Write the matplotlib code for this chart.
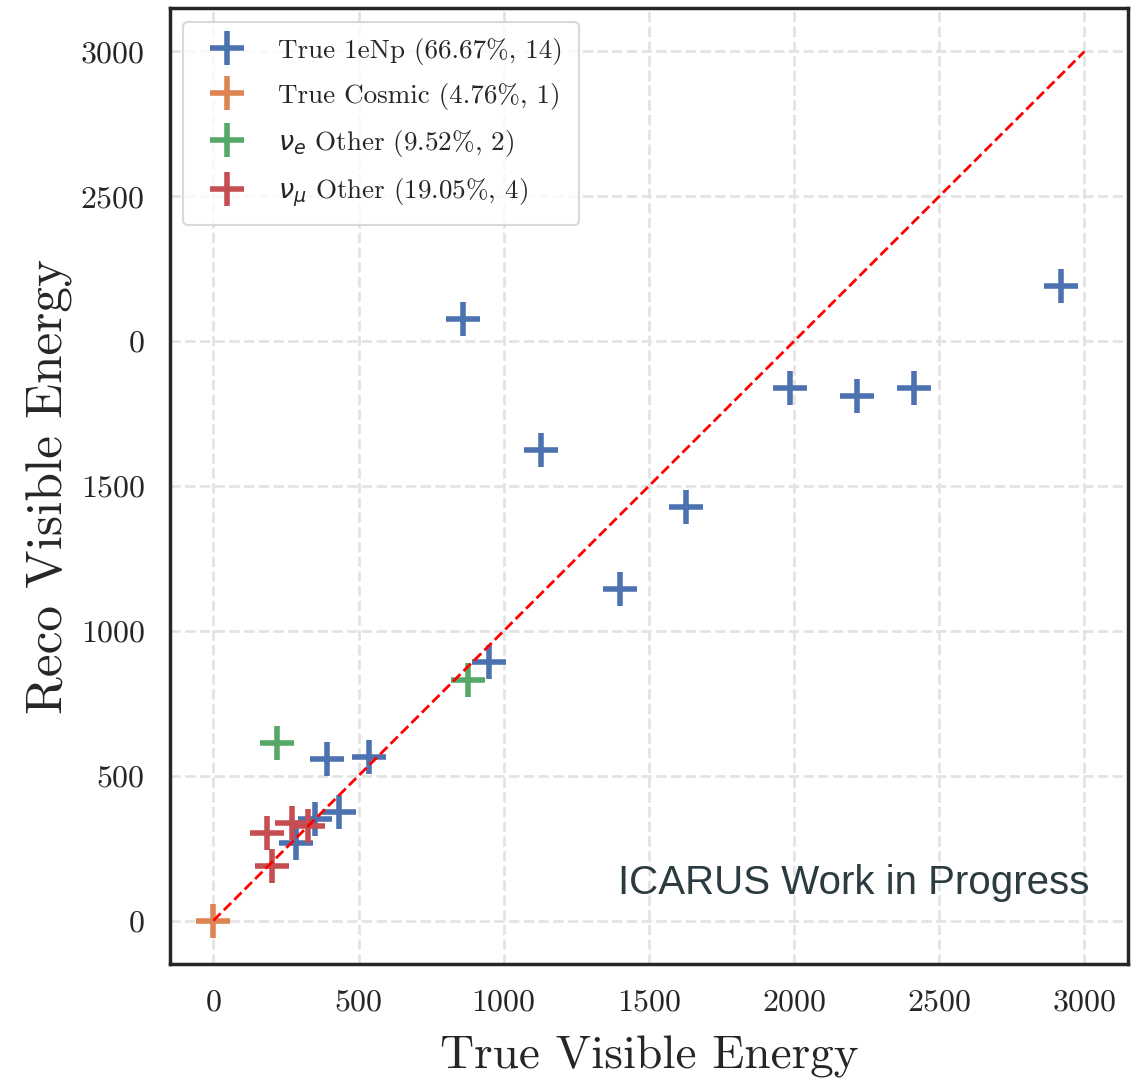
import matplotlib
matplotlib.use('Agg')
import matplotlib.pyplot as plt
import seaborn as sns

# reco vs true visible energy, one list per event category
true_1enp = [859, 2918, 1127, 1629, 1402, 948, 1986, 2216, 2412, 392, 536, 433, 351, 285]
reco_1enp = [2075, 2192, 1626, 1426, 1143, 894, 1840, 1809, 1840, 559, 563, 376, 349, 269]

true_cosmic = [0]
reco_cosmic = [0]

true_nue = [220, 876]
reco_nue = [614, 832]

true_numu = [186, 271, 326, 203]
reco_numu = [304, 338, 328, 190]

labels = ['True 1eNp (66.67%, 14)', 'True Cosmic (4.76%, 1)',
          r'$\nu_e$ Other (9.52%, 2)', r'$\nu_\mu$ Other (19.05%, 4)']

yticks = [0, 500, 1000, 1500, 2000, 2500, 3000]
ytick_labels = ['0', '500', '1000', '1500', '0', '2500', '3000']

sns.set_theme(style='white')
plt.rcParams['font.family'] = ['cmr10']
plt.rcParams['axes.formatter.use_mathtext'] = True
plt.rcParams['mathtext.fontset'] = 'dejavusans'

colors = sns.color_palette('deep')

fig = plt.figure(figsize=(11.4, 10.81), dpi=100)
ax = fig.add_axes([0.149, 0.1082, 0.8405, 0.8844])

mk = dict(marker='+', linestyle='none', markersize=24, mew=4)
ax.plot(true_1enp, reco_1enp, color=colors[0], label=labels[0], **mk)
ax.plot(true_cosmic, reco_cosmic, color=colors[1], label=labels[1], **mk)
ax.plot(true_nue, reco_nue, color=colors[2], label=labels[2], **mk)
ax.plot(true_numu, reco_numu, color=colors[3], label=labels[3], **mk)

ax.plot([0, 3000], [0, 3000], color='red', linestyle='--', lw=2)

ax.set_xlim(-150, 3150)
ax.set_ylim(-150, 3150)
ax.set_xticks([0, 500, 1000, 1500, 2000, 2500, 3000])
ax.set_yticks(yticks)
ax.set_yticklabels(ytick_labels)
ax.tick_params(axis='both', labelsize=23, length=0, pad=18)

ax.grid(True, linestyle='--', color='#e3e3e3', lw=2)
for sp in ax.spines.values():
    sp.set_color('#262626')
    sp.set_linewidth(2.5)

ax.set_xlabel('True Visible Energy', fontsize=34, labelpad=14)
ax.set_ylabel('Reco Visible Energy', fontsize=37, labelpad=6)

leg = ax.legend(loc='upper left', fontsize=19.5, handletextpad=0.9,
                borderpad=0.6, labelspacing=0.66, frameon=True)
leg.get_frame().set_edgecolor('#d0d0d0')
leg.get_frame().set_linewidth(1.5)

ax.text(0.96, 0.065, 'ICARUS Work in Progress', transform=ax.transAxes,
        ha='right', va='bottom', fontsize=29, color='#2b3b40',
        family='Liberation Sans')

fig.savefig('out.png', dpi=100)
